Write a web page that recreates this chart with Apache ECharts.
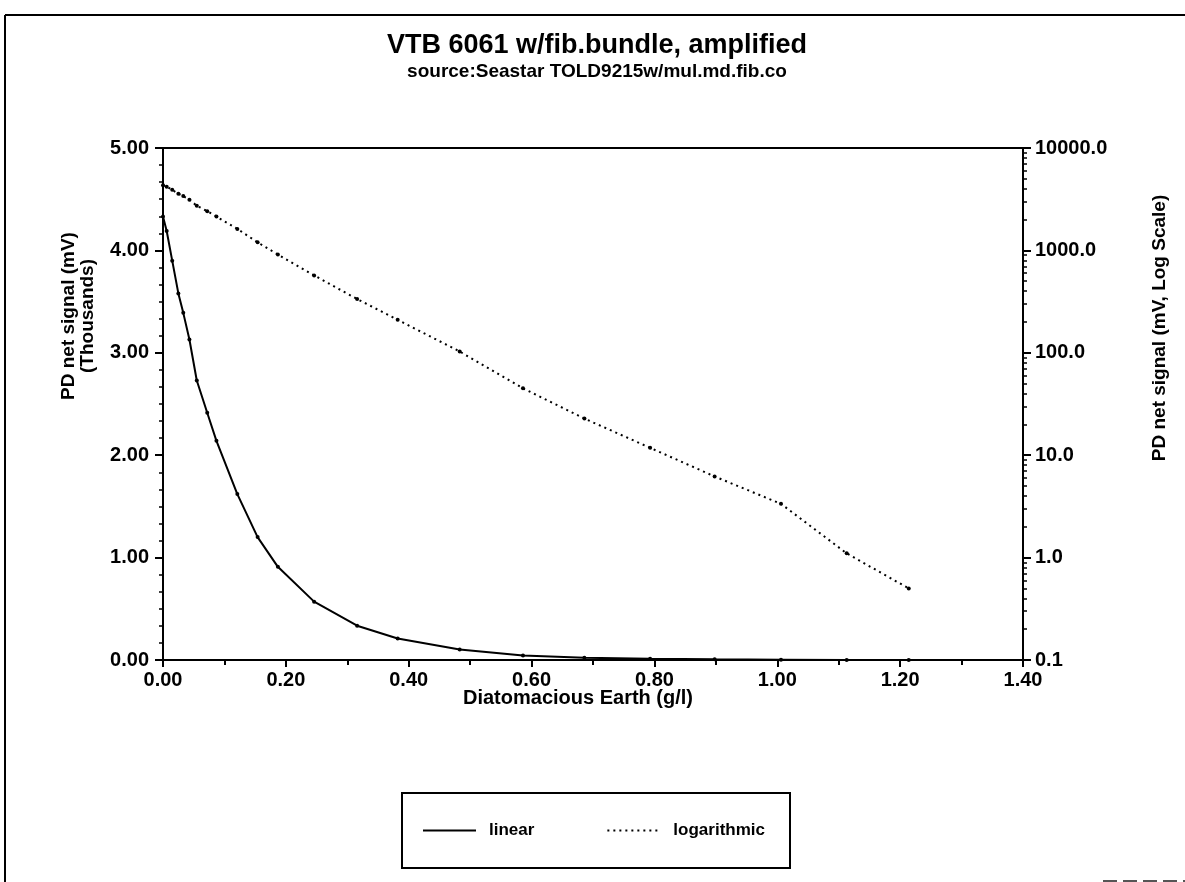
<!DOCTYPE html>
<html>
<head>
<meta charset="utf-8">
<script src="https://cdn.jsdelivr.net/npm/echarts@6/dist/echarts.min.js"></script>
<style>html,body{margin:0;padding:0;background:#fff}#c{width:1185px;height:882px}</style>
</head>
<body>
<div id="c"></div>
<script>
// ---- data ----
const concentration = [0, 0.006, 0.015, 0.025, 0.033, 0.043, 0.055, 0.072, 0.087, 0.121, 0.154, 0.187, 0.246, 0.316, 0.382, 0.483, 0.586, 0.686, 0.793, 0.898, 1.006, 1.113, 1.214];
const signalMV = [4330, 4190, 3900, 3580, 3390, 3130, 2730, 2415, 2140, 1620, 1200, 910, 570, 335, 210, 103, 45, 22.8, 11.8, 6.2, 3.35, 1.1, 0.5];
const seriesNames = ['linear', 'logarithmic'];
const rightDecades = [0.1, 1, 10, 100, 1000, 10000];
const rightMinorTicks = [];
for (let d = 0; d < rightDecades.length - 1; d++) {
  for (let m = 2; m <= 9; m++) rightMinorTicks.push(+(rightDecades[d] * m).toPrecision(3));
}
const titleText = 'VTB 6061 w/fib.bundle, amplified';
const subtitleText = 'source:Seastar TOLD9215w/mul.md.fib.co';
const xName = 'Diatomacious Earth (g/l)';
const leftName1 = 'PD net signal (mV)';
const leftName2 = '(Thousands)';
const rightName = 'PD net signal (mV, Log Scale)';

const linearData = concentration.map((x, i) => [x, signalMV[i] / 1000]);
const logData = concentration.map((x, i) => [x, signalMV[i]]);

const FONT = '"Liberation Sans", Arial, sans-serif';
const lbl = {color: '#000', fontFamily: FONT, fontWeight: 'bold', fontSize: 20};

const chart = echarts.init(document.getElementById('c'), null, {renderer: 'canvas'});
chart.setOption({
  animation: false,
  backgroundColor: '#fff',
  title: {
    text: titleText,
    subtext: subtitleText,
    left: 592, top: 27, textAlign: 'center', itemGap: 3,
    textStyle: {fontFamily: FONT, fontWeight: 'bold', fontSize: 27, color: '#000'},
    subtextStyle: {fontFamily: FONT, fontWeight: 'bold', fontSize: 19, color: '#000'}
  },
  grid: {left: 163, top: 148, width: 860, height: 512, show: true, borderColor: '#000', borderWidth: 2, backgroundColor: 'transparent'},
  legend: {
    data: seriesNames,
    left: 417, top: 817,
    itemWidth: 53, itemHeight: 2, itemGap: 72,
    textStyle: Object.assign({}, lbl, {fontSize: 17, padding: [0, 0, 0, 8]}),
    itemStyle: {opacity: 0}
  },
  xAxis: {
    type: 'value', min: 0, max: 1.4, interval: 0.2,
    axisLine: {show: true, lineStyle: {color: '#000', width: 2}},
    axisTick: {show: true, length: 7, lineStyle: {color: '#000', width: 2}},
    minorTick: {show: true, splitNumber: 2, length: 5, lineStyle: {color: '#000', width: 2}},
    splitLine: {show: false},
    axisLabel: Object.assign({}, lbl, {margin: 10, formatter: v => v.toFixed(2)})
  },
  yAxis: [
    {
      type: 'value', position: 'left', min: 0, max: 5, interval: 1,
      axisLine: {show: true, lineStyle: {color: '#000', width: 2}},
      axisTick: {show: true, length: 8, lineStyle: {color: '#000', width: 2}},
      minorTick: {show: true, splitNumber: 6, length: 4, lineStyle: {color: '#000', width: 1.5}},
      splitLine: {show: false},
      axisLabel: Object.assign({}, lbl, {margin: 14, formatter: v => v.toFixed(2)})
    },
    {
      type: 'log', position: 'right', min: 0.1, max: 10000, logBase: 10,
      axisLine: {show: true, lineStyle: {color: '#000', width: 2}},
      axisTick: {show: true, length: 8, lineStyle: {color: '#000', width: 2}},
      splitLine: {show: false},
      axisLabel: Object.assign({}, lbl, {margin: 12, formatter: v => Number(v).toFixed(1)})
    },
    {
      type: 'log', position: 'right', min: 0.1, max: 10000, logBase: 10,
      axisLine: {show: false},
      axisTick: {show: true, length: 4, customValues: rightMinorTicks, lineStyle: {color: '#000', width: 1.5}},
      axisLabel: {show: false},
      splitLine: {show: false}
    }
  ],
  series: [
    {
      name: seriesNames[0], type: 'line', xAxisIndex: 0, yAxisIndex: 0,
      data: linearData,
      symbol: 'circle', symbolSize: 4, showSymbol: true,
      lineStyle: {color: '#000', width: 2},
      itemStyle: {color: '#000'},
      z: 3
    },
    {
      name: seriesNames[1], type: 'line', xAxisIndex: 0, yAxisIndex: 1,
      data: logData,
      symbol: 'circle', symbolSize: 4, showSymbol: true,
      lineStyle: {color: '#000', width: 2, type: [2, 4]},
      itemStyle: {color: '#000'},
      z: 3
    }
  ],
  graphic: [
    {type: 'line', shape: {x1: 5, y1: 15, x2: 5, y2: 882}, style: {stroke: '#000', lineWidth: 2}},
    {type: 'line', shape: {x1: 5, y1: 15, x2: 1185, y2: 15}, style: {stroke: '#000', lineWidth: 2}},
    {type: 'line', shape: {x1: 1103, y1: 881, x2: 1185, y2: 881}, style: {stroke: '#555', lineWidth: 2, lineDash: [14, 6]}},
    {type: 'rect', shape: {x: 402, y: 793, width: 388, height: 75}, style: {fill: 'none', stroke: '#000', lineWidth: 2}},
    {type: 'text', x: 578, y: 698, style: {text: xName, font: 'bold 20px ' + FONT, fill: '#000', textAlign: 'center', textVerticalAlign: 'middle'}},
    {type: 'text', x: 69, y: 316, rotation: Math.PI / 2, style: {text: leftName1, font: 'bold 19px ' + FONT, fill: '#000', textAlign: 'center', textVerticalAlign: 'middle'}},
    {type: 'text', x: 88, y: 316, rotation: Math.PI / 2, style: {text: leftName2, font: 'bold 19px ' + FONT, fill: '#000', textAlign: 'center', textVerticalAlign: 'middle'}},
    {type: 'text', x: 1160, y: 328, rotation: Math.PI / 2, style: {text: rightName, font: 'bold 19px ' + FONT, fill: '#000', textAlign: 'center', textVerticalAlign: 'middle'}}
  ]
});
</script>
</body>
</html>
